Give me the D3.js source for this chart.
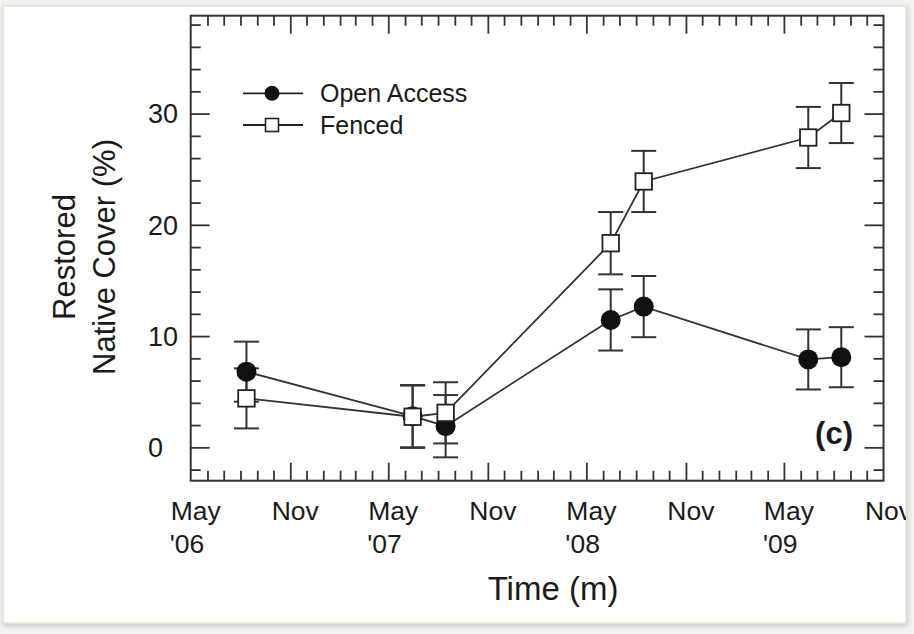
<!DOCTYPE html>
<html><head><meta charset="utf-8">
<script src="https://cdn.jsdelivr.net/npm/d3@7"></script>
<style>
html,body{margin:0;padding:0;background:#f2f2f0;}
svg{display:block;}
text{font-family:"Liberation Sans",Arial,Helvetica,sans-serif;fill:#1a1a1a;}
</style></head>
<body>
<svg id="chart" width="914" height="634"></svg>
<script>
// ---- data ----
const sampleDates = ["2006-08-12","2007-06-15","2007-08-15","2008-06-15","2008-08-15","2009-06-15","2009-08-15"];
const openAccess = [6.8, 2.8, 1.9, 11.45, 12.65, 7.9, 8.1];
const openAccessErr = [2.7, 2.8, 2.8, 2.75, 2.75, 2.7, 2.7];
const fenced = [4.4, 2.75, 3.1, 18.35, 23.9, 27.85, 30.05];
const fencedErr = [2.7, 2.8, 2.75, 2.8, 2.75, 2.75, 2.7];
const seriesNames = ["Open Access", "Fenced"];
const xTickMonths = ["May","Nov","May","Nov","May","Nov","May","Nov"];
const xTickYears = ["'06","","'07","","'08","","'09",""];
const xTickDates = ["2006-05-01","2006-11-01","2007-05-01","2007-11-01","2008-05-01","2008-11-01","2009-05-01","2009-11-01"];
const yTickValues = [0, 10, 20, 30];
const yLabelLines = ["Restored", "Native Cover (%)"];
const xTitle = "Time (m)";
const panelLabel = "(c)";

const parse = d3.timeParse("%Y-%m-%d");
const svg = d3.select("#chart");

// card background
const defs = svg.append("defs");
const f = defs.append("filter").attr("id","sh").attr("x","-5%").attr("y","-5%").attr("width","110%").attr("height","110%");
f.append("feDropShadow").attr("dx",1).attr("dy",2).attr("stdDeviation",2.5).attr("flood-color","#000").attr("flood-opacity",0.18);
svg.append("rect").attr("x",3).attr("y",6).attr("width",903).attr("height",617)
  .attr("fill","#fff").attr("stroke","#e4e1d6").attr("stroke-width",1.5).attr("filter","url(#sh)");
defs.append("clipPath").attr("id","cardclip").append("rect").attr("x",3).attr("y",6).attr("width",903).attr("height",617);

const L = 190.7, R = 883.5, T = 15.7, B = 480.7;
const x = d3.scaleTime().domain([parse("2006-05-01"), parse("2009-11-01")]).range([L, R]);
const y = d3.scaleLinear().domain([-3, 38.8]).range([B, T]);

const g = svg.append("g").attr("clip-path","url(#cardclip)");

// ticks
const months = d3.timeMonth.range(parse("2006-06-01"), parse("2009-11-01"));
const majorM = months.filter(d => d.getMonth() === 4 || d.getMonth() === 10);
const minorM = months.filter(d => !(d.getMonth() === 4 || d.getMonth() === 10));
const yMinor = d3.range(-2, 39, 2).filter(v => v % 10 !== 0);
const yMajor = yTickValues;

function styleAxis(sel){ sel.select(".domain").remove(); sel.selectAll("line").attr("stroke","#333").attr("stroke-width",1.8); sel.selectAll("text").remove(); }
g.append("g").attr("transform",`translate(0,${B})`).call(d3.axisBottom(x).tickValues(minorM).tickSize(-10).tickFormat("")).call(styleAxis);
g.append("g").attr("transform",`translate(0,${B})`).call(d3.axisBottom(x).tickValues(majorM).tickSize(-18).tickFormat("")).call(styleAxis);
g.append("g").attr("transform",`translate(0,${T})`).call(d3.axisTop(x).tickValues(minorM).tickSize(-10).tickFormat("")).call(styleAxis);
g.append("g").attr("transform",`translate(0,${T})`).call(d3.axisTop(x).tickValues(majorM).tickSize(-18).tickFormat("")).call(styleAxis);
g.append("g").attr("transform",`translate(${L},0)`).call(d3.axisLeft(y).tickValues(yMinor).tickSize(-10).tickFormat("")).call(styleAxis);
g.append("g").attr("transform",`translate(${L},0)`).call(d3.axisLeft(y).tickValues(yMajor).tickSize(-19).tickFormat("")).call(styleAxis);
g.append("g").attr("transform",`translate(${R},0)`).call(d3.axisRight(y).tickValues(yMinor).tickSize(-10).tickFormat("")).call(styleAxis);
g.append("g").attr("transform",`translate(${R},0)`).call(d3.axisRight(y).tickValues(yMajor).tickSize(-19).tickFormat("")).call(styleAxis);

g.append("rect").attr("x",L).attr("y",T).attr("width",R-L).attr("height",B-T)
  .attr("fill","none").attr("stroke","#333").attr("stroke-width",2);

// y tick labels
g.selectAll(".ytl").data(yTickValues).enter().append("text")
  .attr("x",148).attr("y",d=>y(d)).attr("dy","0.36em").attr("font-size",27).text(d=>d);

// x tick labels
xTickDates.forEach((d,i)=>{
  const xp = x(parse(d));
  g.append("text").attr("x",xp+5).attr("y",520).attr("text-anchor","middle").attr("font-size",26.5).text(xTickMonths[i]);
  if (xTickYears[i]) g.append("text").attr("x",xp-21).attr("y",553).attr("font-size",26.5).text(xTickYears[i]);
});

// axis titles
g.append("text").attr("x",553).attr("y",600).attr("text-anchor","middle").attr("font-size",33).text(xTitle);
g.append("text").attr("transform","translate(75,257) rotate(-90)").attr("text-anchor","middle").attr("font-size",31).text(yLabelLines[0]);
g.append("text").attr("transform","translate(115,257) rotate(-90)").attr("text-anchor","middle").attr("font-size",31).text(yLabelLines[1]);

// panel label
g.append("text").attr("x",853).attr("y",444).attr("text-anchor","end").attr("font-size",31).attr("font-weight","bold").text(panelLabel);

// data
const dates = sampleDates.map(parse);
const series = [
  {vals: openAccess, err: openAccessErr, kind: "circle"},
  {vals: fenced, err: fencedErr, kind: "square"}
];
const cap = 12.5;
const line = d3.line().x(d=>x(d.d)).y(d=>y(d.v));

series.forEach(s=>{
  const pts = dates.map((d,i)=>({d, v:s.vals[i], e:s.err[i]}));
  const eb = g.append("g").attr("stroke","#333").attr("stroke-width",2);
  pts.forEach(p=>{
    const xp = x(p.d);
    eb.append("line").attr("x1",xp).attr("x2",xp).attr("y1",y(p.v+p.e)).attr("y2",y(p.v-p.e));
    eb.append("line").attr("x1",xp-cap).attr("x2",xp+cap).attr("y1",y(p.v+p.e)).attr("y2",y(p.v+p.e));
    eb.append("line").attr("x1",xp-cap).attr("x2",xp+cap).attr("y1",y(p.v-p.e)).attr("y2",y(p.v-p.e));
  });
  s.pts = pts;
});
series.forEach(s=>{
  g.append("path").datum(s.pts).attr("d",line).attr("fill","none").attr("stroke","#333").attr("stroke-width",1.8);
});
series.forEach(s=>{
  if (s.kind === "circle") {
    g.selectAll(null).data(s.pts).enter().append("circle")
      .attr("cx",p=>x(p.d)).attr("cy",p=>y(p.v)).attr("r",10).attr("fill","#111");
  } else {
    const sz = 16.5;
    g.selectAll(null).data(s.pts).enter().append("rect")
      .attr("x",p=>x(p.d)-sz/2).attr("y",p=>y(p.v)-sz/2).attr("width",sz).attr("height",sz)
      .attr("fill","#fff").attr("stroke","#222").attr("stroke-width",1.8);
  }
});

// legend
const lg = g.append("g");
[93.3, 125].forEach((ly,i)=>{
  lg.append("line").attr("x1",243).attr("x2",303).attr("y1",ly).attr("y2",ly).attr("stroke","#222").attr("stroke-width",1.8);
  if (i===0) lg.append("circle").attr("cx",272).attr("cy",ly).attr("r",7.5).attr("fill","#111");
  else lg.append("rect").attr("x",272-6.5).attr("y",ly-6.5).attr("width",13).attr("height",13).attr("fill","#fff").attr("stroke","#222").attr("stroke-width",1.6);
  lg.append("text").attr("x",320).attr("y",ly+8.7).attr("font-size",25).text(seriesNames[i]);
});
</script>
</body></html>
